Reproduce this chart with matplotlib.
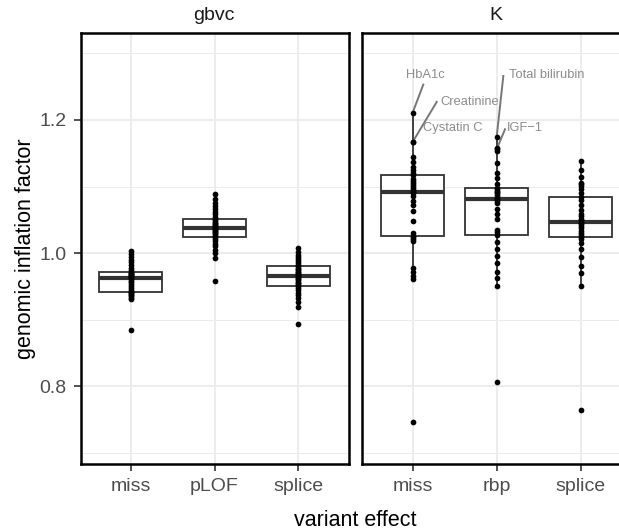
import matplotlib
matplotlib.use("Agg")
import matplotlib.pyplot as plt
import numpy as np

plt.rcParams['font.family'] = ['Liberation Sans', 'DejaVu Sans']

# inflation factors per panel and variant effect
gbvc_miss = [0.885, 0.931, 0.933, 0.935, 0.937, 0.938, 0.940, 0.941, 0.942, 0.945, 0.948,
             0.951, 0.954, 0.956, 0.958, 0.961, 0.963, 0.964, 0.965, 0.966, 0.967, 0.968,
             0.969, 0.970, 0.972, 0.975, 0.978, 0.982, 0.986, 0.990, 0.994, 0.999, 1.003]
gbvc_plof = [0.958, 0.992, 1.000, 1.005, 1.010, 1.014, 1.018, 1.021, 1.0235, 1.026, 1.028,
             1.030, 1.031, 1.033, 1.034, 1.036, 1.0375, 1.039, 1.040, 1.042, 1.044, 1.045,
             1.047, 1.049, 1.051, 1.054, 1.058, 1.062, 1.066, 1.070, 1.076, 1.082, 1.089]
gbvc_splice = [0.894, 0.919, 0.926, 0.932, 0.937, 0.940, 0.944, 0.947, 0.950, 0.953, 0.955,
               0.957, 0.959, 0.961, 0.963, 0.965, 0.966, 0.968, 0.969, 0.971, 0.972, 0.974,
               0.976, 0.978, 0.980, 0.982, 0.985, 0.988, 0.991, 0.994, 0.997, 1.001, 1.007]
k_miss = [0.746, 0.961, 0.966, 0.972, 0.978, 1.018, 1.021, 1.024, 1.026, 1.030, 1.048,
          1.063, 1.073, 1.079, 1.086, 1.090, 1.092, 1.094, 1.097, 1.100, 1.103, 1.106,
          1.109, 1.112, 1.118, 1.121, 1.125, 1.129, 1.137, 1.144, 1.167, 1.167, 1.211]
k_rbp = [0.807, 0.950, 0.962, 0.972, 0.985, 0.996, 1.006, 1.016, 1.027, 1.031, 1.035,
         1.051, 1.058, 1.066, 1.075, 1.079, 1.081, 1.083, 1.085, 1.088, 1.090, 1.092,
         1.094, 1.096, 1.098, 1.104, 1.113, 1.121, 1.136, 1.153, 1.156, 1.158, 1.175]
k_splice = [0.765, 0.951, 0.970, 0.981, 0.994, 1.006, 1.015, 1.021, 1.0235, 1.027, 1.030,
            1.033, 1.037, 1.041, 1.043, 1.045, 1.047, 1.049, 1.051, 1.055, 1.058, 1.064,
            1.073, 1.080, 1.0845, 1.090, 1.096, 1.101, 1.104, 1.106, 1.115, 1.125, 1.138]

panel_names = ["gbvc", "K"]
gbvc_labels = ["miss", "pLOF", "splice"]
k_labels = ["miss", "rbp", "splice"]

# labelled traits in panel K
label_names = ["HbA1c", "Creatinine", "Cystatin C", "Total bilirubin", "IGF\u22121"]
label_cat = [0, 0, 0, 1, 1]
label_val = [1.211, 1.167, 1.167, 1.175, 1.156]
label_tx = [1.15, 1.68, 1.48, 2.60, 2.34]
label_ty = [1.267, 1.227, 1.188, 1.267, 1.188]
# where the repel segment leaves the label (None = no segment)
seg_x0 = [1.126, 1.286, None, 2.079, 2.099]
seg_y0 = [1.253, 1.227, None, 1.266, 1.186]

YLIM = (0.683, 1.330)
grid_col = "#EBEBEB"
box_col = "#333333"
PX = 84.0  # pixels per category step


def draw_panel(ax, groups, labels, title, xmax):
    pos = np.arange(1, len(groups) + 1)
    ax.set_xlim(0.4, xmax)
    ax.set_ylim(*YLIM)
    ax.set_yticks([0.8, 1.0, 1.2])
    ax.set_yticks([0.7, 0.9, 1.1, 1.3], minor=True)
    ax.grid(which='major', color=grid_col, lw=1.3)
    ax.grid(which='minor', axis='y', color=grid_col, lw=0.7)
    ax.set_axisbelow(True)
    ax.boxplot(groups, positions=pos, widths=0.75, whis=1.5, showfliers=False,
               showcaps=False, patch_artist=True,
               boxprops=dict(facecolor='white', edgecolor=box_col, lw=1.3),
               medianprops=dict(color=box_col, lw=3.0, solid_capstyle='butt'),
               whiskerprops=dict(color=box_col, lw=1.3))
    for p, vals in zip(pos, groups):
        ax.scatter(np.full(len(vals), p), vals, s=17, color='black', zorder=5,
                   linewidths=0)
    ax.set_xticks(pos)
    ax.set_xticklabels(labels)
    ax.tick_params(axis='both', which='major', length=5, width=1.2, color=box_col,
                   labelsize=14, labelcolor="#4D4D4D", pad=5)
    ax.tick_params(axis='y', which='minor', length=0)
    for s in ax.spines.values():
        s.set_linewidth(1.8)
        s.set_color('black')
    ax.text(0.4 + 134.0 / PX, YLIM[1] + 18 / 667.0, title, ha='center', va='center',
            fontsize=14, color='#1A1A1A', clip_on=False)


fig = plt.figure(figsize=(6.19, 5.32), dpi=100)
bottom = 1 - 464.3 / 532
height = 431 / 532
ax1 = fig.add_axes([80.5 / 619, bottom, 268 / 619, height])
# right panel runs off the edge of the picture, as in the reference crop
ax2 = fig.add_axes([362.3 / 619, bottom, (619 - 362.3) / 619, height])

draw_panel(ax1, [gbvc_miss, gbvc_plof, gbvc_splice], gbvc_labels, panel_names[0], 3.6)
draw_panel(ax2, [k_miss, k_rbp, k_splice], k_labels, panel_names[1],
           0.4 + (619 - 362.3) / PX)
ax2.spines['right'].set_visible(False)
ax2.tick_params(axis='y', which='both', left=False, labelleft=False)

for name, c, v, tx, ty, x0, y0 in zip(label_names, label_cat, label_val,
                                      label_tx, label_ty, seg_x0, seg_y0):
    if x0 is not None:
        ax2.plot([x0, c + 1], [y0, v], color='#777777', lw=1.4, zorder=4)
    ax2.text(tx, ty, name, ha='center', va='center', fontsize=9.3, color='#8C8C8C',
             zorder=6)

fig.text(355 / 619, 1 - 520 / 532, "variant effect", ha='center', va='center',
         fontsize=15.5, color='black')
fig.text(26 / 619, 1 - 249 / 532, "genomic inflation factor", ha='center', va='center',
         rotation=90, fontsize=15.5, color='black')

fig.savefig("out.png", dpi=100)
